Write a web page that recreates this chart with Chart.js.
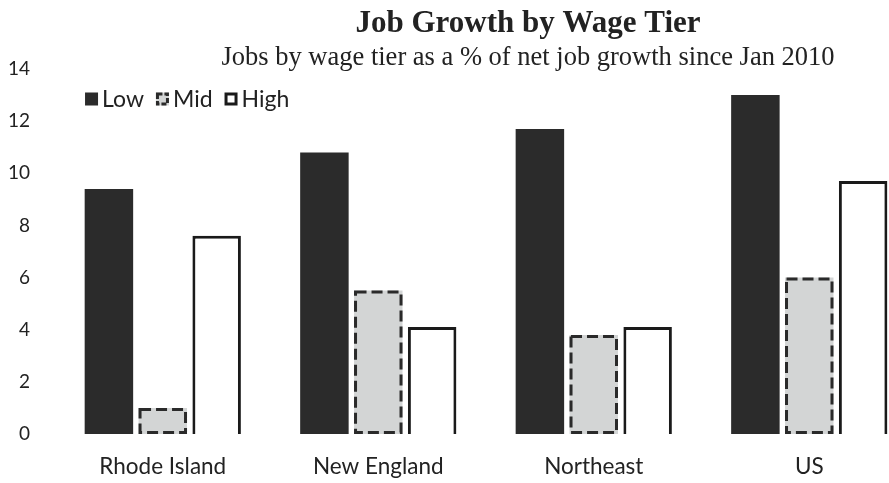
<!DOCTYPE html>
<html>
<head>
<meta charset="utf-8">
<script src="https://cdn.jsdelivr.net/npm/chart.js@4"></script>
<style>
  html, body { margin: 0; padding: 0; background: #fff; overflow: hidden; }
  #wrap { position: relative; width: 950px; height: 499px; margin-left: -25px; }
</style>
</head>
<body>
<div id="wrap"><canvas id="myChart"></canvas></div>
<script>
const labels = ['Rhode Island', 'New England', 'Northeast', 'US'];
const lowValues = [9.4, 10.8, 11.7, 13.0];
const midValues = [1.0, 5.5, 3.8, 6.0];
const highValues = [7.6, 4.1, 4.1, 9.7];
const yTicks = [0, 2, 4, 6, 8, 10, 12, 14];

const titleText = 'Job Growth by Wage Tier';
const subtitleText = 'Jobs by wage tier as a % of net job growth since Jan 2010';

const ink = '#2a2a2a';
const shift = 25; // canvas is pushed left by this much (see #wrap)

// Mid bars get a dashed outline, which bars do not support natively
const dashedBorder = {
  id: 'dashedBorder',
  afterDatasetsDraw(chart) {
    const ctx = chart.ctx;
    const meta = chart.getDatasetMeta(1);
    ctx.save();
    ctx.strokeStyle = ink;
    ctx.lineWidth = 3;
    ctx.setLineDash([11, 5]);
    meta.data.forEach((bar) => {
      const p = bar.getProps(['x', 'y', 'base', 'width'], true);
      const left = p.x - p.width / 2;
      ctx.strokeRect(left + 1.5, p.y + 1.5, p.width - 3, p.base - p.y - 3);
    });
    ctx.restore();
  }
};

// title, subtitle and the legend sit off-centre in the original
const headerAndLegend = {
  id: 'headerAndLegend',
  afterDraw(chart) {
    const ctx = chart.ctx;
    const area = chart.chartArea;
    ctx.save();
    ctx.fillStyle = '#222';
    ctx.textAlign = 'center';
    ctx.textBaseline = 'alphabetic';
    ctx.font = 'bold 31px "Liberation Serif", "Times New Roman", serif';
    ctx.fillText(titleText, 528 + shift, 32);
    ctx.font = '26.5px "Liberation Serif", "Times New Roman", serif';
    ctx.fillText(subtitleText, 528 + shift, 65);

    // legend
    ctx.textAlign = 'left';
    ctx.textBaseline = 'middle';
    ctx.font = '23px Lato, "Open Sans", sans-serif';
    let x = area.left + 30;
    const y = 99;
    const box = 13;
    chart.data.datasets.forEach((ds, i) => {
      if (i === 0) {
        ctx.fillStyle = ds.backgroundColor;
        ctx.fillRect(x, y - box / 2, box, box);
      } else if (i === 1) {
        ctx.fillStyle = ds.backgroundColor;
        ctx.fillRect(x, y - box / 2, box, box);
        ctx.strokeStyle = ink;
        ctx.lineWidth = 3;
        ctx.setLineDash([5, 2]);
        ctx.strokeRect(x + 1.5, y - box / 2 + 1.5, box - 3, box - 3);
        ctx.setLineDash([]);
      } else {
        ctx.fillStyle = '#fff';
        ctx.fillRect(x, y - box / 2, box, box);
        ctx.strokeStyle = '#1a1a1a';
        ctx.lineWidth = 3;
        ctx.strokeRect(x + 1.5, y - box / 2 + 1.5, box - 3, box - 3);
      }
      ctx.fillStyle = '#222';
      ctx.fillText(ds.label, x + box + 4, y + 1);
      x += box + 4 + ctx.measureText(ds.label).width + 12;
    });
    ctx.restore();
  }
};

const ctx = document.getElementById('myChart');

const config = {
  type: 'bar',
  data: {
    labels: labels,
    datasets: [
      { label: 'Low', data: lowValues, backgroundColor: '#2b2b2b', borderWidth: 0 },
      { label: 'Mid', data: midValues, backgroundColor: '#d3d5d5', borderWidth: 0 },
      { label: 'High', data: highValues, backgroundColor: '#ffffff', borderColor: '#1a1a1a', borderWidth: 3 }
    ]
  },
  options: {
    responsive: true,
    maintainAspectRatio: false,
    animation: false,
    layout: { padding: { top: 69, left: 8, right: 8, bottom: 0 } },
    plugins: {
      legend: false,
      title: { display: false },
      tooltip: { enabled: false }
    },
    datasets: {
      bar: { categoryPercentage: 0.75, barPercentage: 0.9 }
    },
    scales: {
      x: {
        grid: { display: false, drawTicks: false },
        border: { display: false },
        ticks: {
          color: '#222',
          padding: 19,
          font: { family: 'Lato, "Open Sans", sans-serif', size: 22.5 }
        }
      },
      y: {
        min: 0,
        max: 14,
        afterBuildTicks: (axis) => { axis.ticks = yTicks.map((v) => ({ value: v })); },
        grid: { display: false, drawTicks: false },
        border: { display: false },
        ticks: {
          color: '#222',
          padding: 25,
          font: { family: 'Lato, "Open Sans", sans-serif', size: 19 }
        }
      }
    }
  },
  plugins: [dashedBorder, headerAndLegend]
};

let chart = new Chart(ctx, config);
</script>
</body>
</html>
